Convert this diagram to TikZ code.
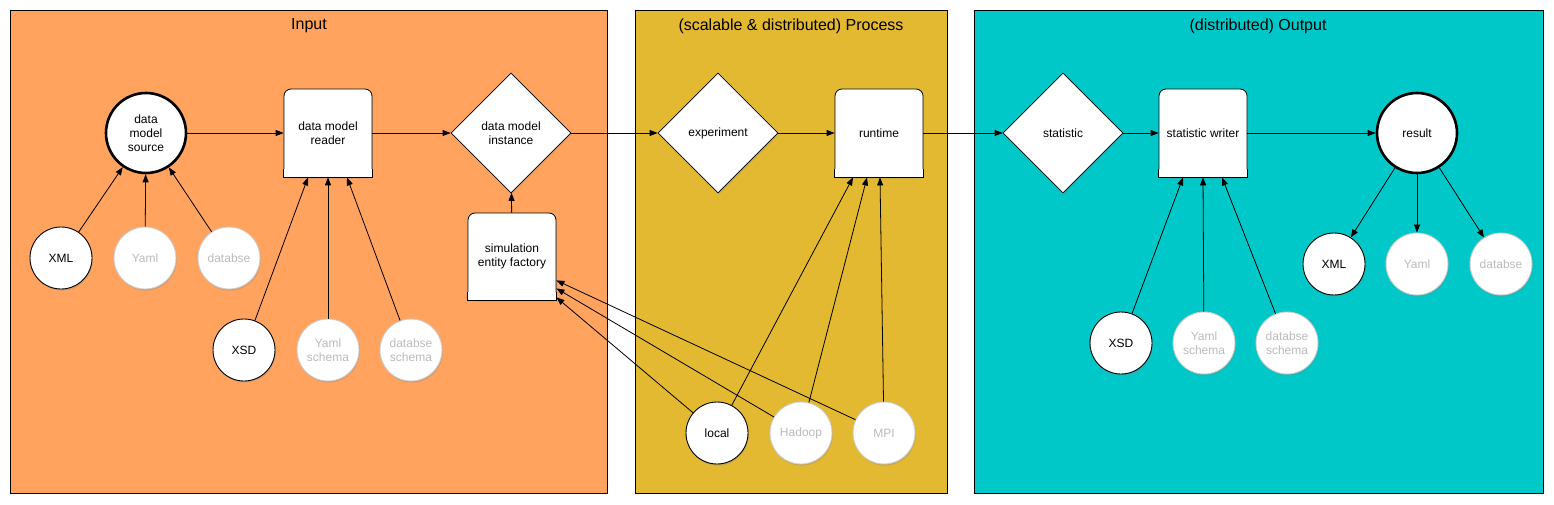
\documentclass[tikz,border=0pt]{standalone}
\usepackage{fontspec}
\setmainfont{Liberation Sans}
\usetikzlibrary{shapes.geometric,arrows.meta,calc,shadows}
\definecolor{inpc}{HTML}{FFA35E}
\definecolor{proc}{HTML}{E3B932}
\definecolor{outc}{HTML}{00C8C8}
\definecolor{graytxt}{HTML}{BBBBBB}
\definecolor{grayline}{HTML}{CCCCCC}
\newcommand\sqbottom[1]{%
  \fill[white] ([xshift=0.4pt]#1.south west) rectangle ([xshift=-0.4pt,yshift=8pt]#1.south east);
  \draw[line width=0.8pt] ([yshift=8pt]#1.south west) |- (#1.south east) -- ([yshift=8pt]#1.south east);}
\tikzset{
  panel/.style={draw=black, line width=1pt},
  ptitle/.style={font=\fontsize{16}{18}\selectfont, anchor=center},
  shad/.style={drop shadow={shadow xshift=0.8pt, shadow yshift=-1.6pt, opacity=0.3}},
  txt/.style={font=\fontsize{12}{14}\selectfont, align=center},
  boxnode/.style={draw, fill=white, rounded corners=7pt, minimum width=88pt, minimum height=88pt, inner sep=2pt, line width=0.8pt, txt, shad},
  dia/.style={diamond, aspect=1, draw, fill=white, minimum size=120pt, inner sep=0pt, line width=0.8pt, txt, shad},
  bigc/.style={circle, draw, fill=white, line width=2.6pt, minimum size=80pt, inner sep=0pt, txt},
  blkc/.style={circle, draw, fill=white, line width=0.9pt, minimum size=62pt, inner sep=0pt, font=\fontsize{12}{14}\selectfont, align=center, shad},
  gryc/.style={blkc, draw=grayline, text=graytxt},
  arr/.style={-{Triangle[length=8pt,width=6pt]}, line width=0.8pt},
}
\begin{document}
\begin{tikzpicture}[x=1pt,y=1pt]
\useasboundingbox (0,0) rectangle (1554,-505);
\fill[white] (0,0) rectangle (1554,-505);
% panels
\draw[panel, fill=inpc] (10,-11) rectangle (607,-493);
\draw[panel, fill=proc] (635,-11) rectangle (947,-493);
\draw[panel, fill=outc] (974,-11) rectangle (1543,-493);
\node[ptitle] (tin) at (309,-26) {Input};
\node[ptitle] (tpr) at (791,-26) {(scalable \& distributed) Process};
\node[ptitle] (tout) at (1258,-26) {(distributed) Output};

% input
\node[bigc] (src) at (146,-133) {data\\model\\source};
\node[boxnode] (rdr) at (328,-133) {data model\\reader};
\sqbottom{rdr}
\node[dia] (inst) at (511,-133) {data model\\instance};
\node[boxnode, minimum height=87pt] (fac) at (512,-256.5) {simulation\\entity factory};
\sqbottom{fac}
\node[blkc] (xmlA) at (61,-258) {XML};
\node[gryc] (yamlA) at (145,-258) {Yaml};
\node[gryc] (dbA) at (229,-258) {databse};
\node[blkc] (xsdA) at (244,-350) {XSD};
\node[gryc] (ysA) at (328,-350) {Yaml\\schema};
\node[gryc] (dsA) at (411,-350) {databse\\schema};

% process
\node[dia] (exp) at (718,-133) {experiment};
\node[boxnode] (rt) at (879,-133) {runtime};
\sqbottom{rt}
\node[blkc] (loc) at (717,-433) {local};
\node[gryc] (had) at (801,-433) {Hadoop};
\node[gryc] (mpi) at (884,-433) {MPI};

% output
\node[dia] (stat) at (1063,-133) {statistic};
\node[boxnode] (wr) at (1203,-133) {statistic writer};
\sqbottom{wr}
\node[bigc] (res) at (1417,-133) {result};
\node[blkc] (xsdB) at (1121,-343) {XSD};
\node[gryc] (ysB) at (1204,-343) {Yaml\\schema};
\node[gryc] (dsB) at (1287,-343) {databse\\schema};
\node[blkc] (xmlB) at (1334,-264) {XML};
\node[gryc] (yamlB) at (1417,-264) {Yaml};
\node[gryc] (dbB) at (1501,-264) {databse};

% connectors
\draw[arr] (xmlA) -- (src);
\draw[arr] (yamlA) -- (src);
\draw[arr] (dbA) -- (src);
\draw[arr] (src) -- (rdr);
\draw[arr] (xsdA) -- ($(rdr.south)+(-20,0)$);
\draw[arr] (ysA) -- (rdr.south);
\draw[arr] (dsA) -- ($(rdr.south)+(19,0)$);
\draw[arr] (rdr) -- (inst);
\draw[arr] (fac) -- (inst);
\draw[arr] (inst) -- (exp);
\draw[arr] (exp) -- (rt);
\draw[arr] (mpi) -- ($(fac.south east)+(0,20)$);
\draw[arr] (had) -- ($(fac.south east)+(0,12)$);
\draw[arr] (loc) -- ($(fac.south east)+(0,3)$);
\draw[arr] (loc) -- ($(rt.south)+(-26,0)$);
\draw[arr] (had) -- ($(rt.south)+(-12,0)$);
\draw[arr] (mpi) -- ($(rt.south)+(1,0)$);
\draw[arr] (rt) -- (stat);
\draw[arr] (stat) -- (wr);
\draw[arr] (wr) -- (res);
\draw[arr] (xsdB) -- ($(wr.south)+(-20,0)$);
\draw[arr] (ysB) -- (wr.south);
\draw[arr] (dsB) -- ($(wr.south)+(19,0)$);
\draw[arr] (res) -- (xmlB);
\draw[arr] (res) -- (yamlB);
\draw[arr] (res) -- (dbB);
\end{tikzpicture}
\end{document}
